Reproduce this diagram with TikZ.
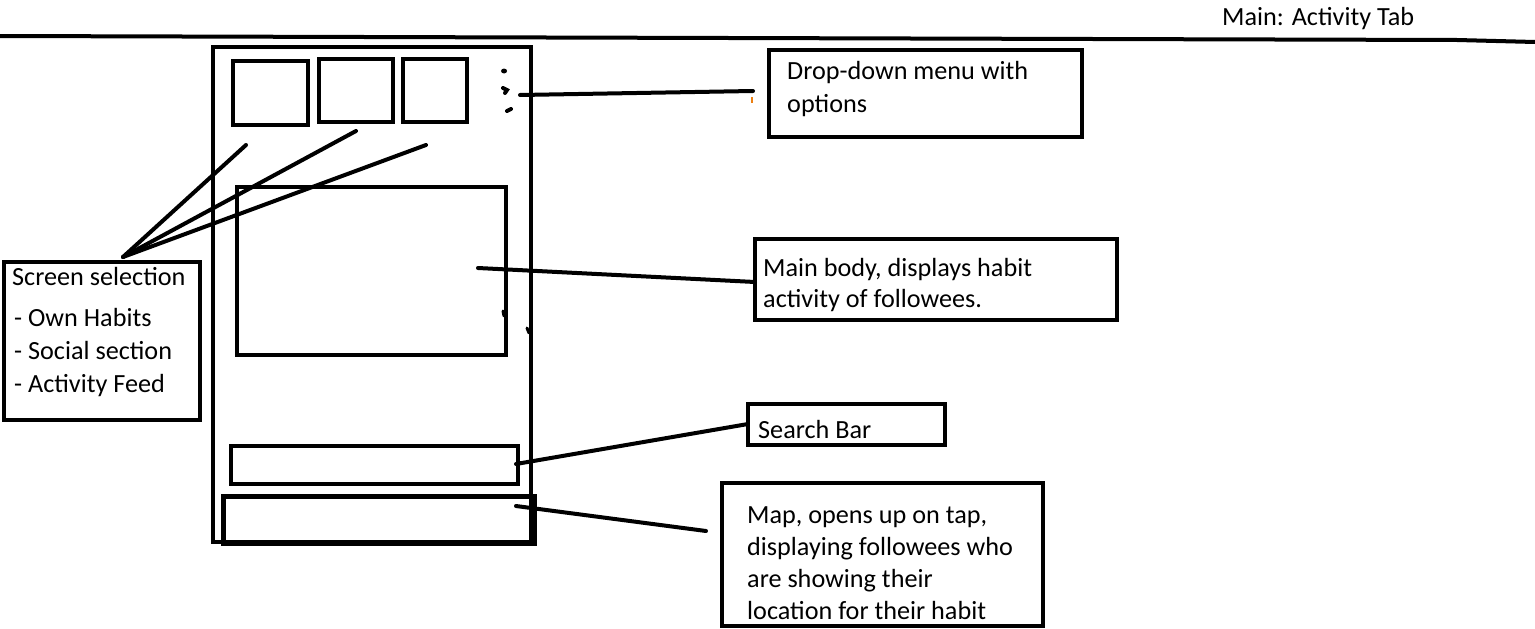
\documentclass[tikz,border=0pt]{standalone}
\usepackage{fontspec}
\setmainfont{Carlito}
\begin{document}
\begin{tikzpicture}[x=1pt,y=-1pt,
  frame/.style={draw=black,line width=4pt,inner sep=0pt,outer sep=0pt,anchor=north west},
  conn/.style={draw=black,line width=4pt,line cap=round},
  lbl/.style={anchor=base west,inner sep=0pt,font=\fontsize{26.2}{30}\selectfont},
  blob/.style={line width=4pt,line cap=round}]
\useasboundingbox[fill=white] (0,0) rectangle (1535,629);
% title and rule
\node[lbl] (title) at (1222,25) {Main: Activity Tab};
\coordinate (ruleL) at (0,36);
\coordinate (ruleM) at (1457,40);
\coordinate (ruleR) at (1535,42);
\draw[line width=4pt] (ruleL) -- (ruleM) -- (ruleR);
% phone
\node[frame,minimum width=318pt,minimum height=495pt] (phone) at (213,47) {};
\node[frame,line width=3.5pt,minimum width=75pt,minimum height=64pt] (tab1) at (233,61) {};
\node[frame,line width=3.5pt,minimum width=74pt,minimum height=63pt] (tab2) at (319,59) {};
\node[frame,line width=3.5pt,minimum width=64pt,minimum height=63pt] (tab3) at (403,59) {};
\node[frame,minimum width=269pt,minimum height=168pt] (body) at (237,187) {};
\node[frame,minimum width=287pt,minimum height=38pt] (search) at (231,446) {};
\node[frame,line width=5pt,minimum width=311pt,minimum height=47pt] (map) at (223,496) {};
% menu dots
\fill (504,71) ellipse (3pt and 2.5pt);
\draw[blob] (503,88) -- (507,90) -- (505,93);
\draw[blob] (507,111) -- (511,109);
% stray marks
\draw[blob,line width=3pt] (503,311) -- (504,316);
\draw[blob,line width=3pt] (527,328) -- (529,333);
% label boxes
\node[frame,minimum width=313pt,minimum height=87pt] (menubox) at (769,50) {};
\node[lbl] (menutxt1) at (787,79) {Drop-down menu with};
\node[lbl] (menutxt2) at (787,112) {options};
\node[frame,minimum width=362pt,minimum height=81pt] (bodybox) at (755,239) {};
\node[lbl] (bodytxt1) at (763,276) {Main body, displays habit};
\node[lbl] (bodytxt2) at (763,307) {activity of followees.};
\node[frame,minimum width=196pt,minimum height=158pt] (selbox) at (4,262) {};
\node[lbl] (seltxt0) at (12,285) {Screen selection};
\node[lbl] (seltxt1) at (14,326) {- Own Habits};
\node[lbl] (seltxt2) at (14,359) {- Social section};
\node[lbl] (seltxt3) at (14,392) {- Activity Feed};
\node[frame,minimum width=197pt,minimum height=41pt] (searchbox) at (748,404) {};
\node[lbl] (searchtxt) at (758,438) {Search Bar};
\node[lbl] (maptxt1) at (747,523) {Map, opens up on tap,};
\node[lbl] (maptxt2) at (747,555) {displaying followees who};
\node[lbl] (maptxt3) at (747,587) {are showing their};
\node[lbl] (maptxt4) at (747,619) {location for their habit};
\fill[white] (722,624) rectangle (1044,629);
\node[frame,minimum width=321pt,minimum height=143pt] (mapbox) at (722,483) {};
% connector end points
\coordinate (selTop) at (123,257);
\coordinate (t1end) at (246,145);
\coordinate (t2end) at (356,131);
\coordinate (t3end) at (426,145);
\coordinate (menuA) at (520,95);
\coordinate (menuB) at (753,91);
\coordinate (bodyA) at (478,268);
\coordinate (bodyB) at (755,282);
\coordinate (searchA) at (516,464);
\coordinate (searchB) at (748,424);
\coordinate (mapA) at (516,506);
\coordinate (mapB) at (706,531);
\draw[conn] (selTop) -- (t1end);
\draw[conn] (selTop) -- (t2end);
\draw[conn] (selTop) -- (t3end);
\draw[conn] (menuA) -- (menuB);
\draw[conn] (bodyA) -- (bodyB);
\draw[conn] (searchA) -- (searchB);
\draw[conn] (mapA) -- (mapB);
\draw[orange!70!brown,line width=1.5pt] (752,97) -- (752,103);
\end{tikzpicture}
\end{document}
